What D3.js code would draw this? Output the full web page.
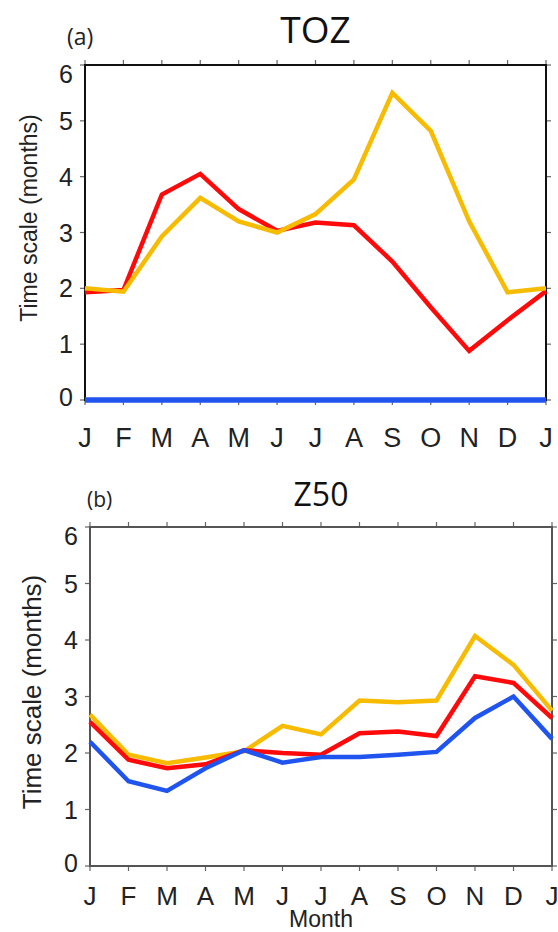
<!DOCTYPE html>
<html>
<head>
<meta charset="utf-8">
<script src="https://cdn.jsdelivr.net/npm/d3@7/dist/d3.min.js"></script>
<style>
  html, body { margin: 0; padding: 0; background: #fff; }
  svg { display: block; }
</style>
</head>
<body>
<svg id="chart" width="558" height="932"></svg>
<script>
// Month tick labels (January to the following January)
const months = ["J", "F", "M", "A", "M", "J", "J", "A", "S", "O", "N", "D", "J"];
const yTicks = [0, 1, 2, 3, 4, 5, 6];

// Panel (a): total ozone (TOZ) time scales, months
const tozRed    = [1.93, 1.97, 3.68, 4.05, 3.42, 3.03, 3.18, 3.13, 2.48, 1.66, 0.88, 1.43, 1.95];
const tozYellow = [2.00, 1.94, 2.93, 3.62, 3.20, 3.00, 3.33, 3.95, 5.50, 4.82, 3.20, 1.93, 2.00];
const tozBlue   = [0, 0, 0, 0, 0, 0, 0, 0, 0, 0, 0, 0, 0];

// Panel (b): 50 hPa geopotential height (Z50) time scales, months
const z50Red    = [2.55, 1.88, 1.73, 1.80, 2.05, 2.00, 1.97, 2.35, 2.38, 2.30, 3.36, 3.24, 2.62];
const z50Yellow = [2.68, 1.97, 1.82, 1.92, 2.03, 2.48, 2.33, 2.93, 2.90, 2.93, 4.07, 3.56, 2.75];
const z50Blue   = [2.20, 1.50, 1.33, 1.73, 2.05, 1.83, 1.93, 1.93, 1.97, 2.02, 2.62, 3.00, 2.25];

const colors = { red: "#ff0a0a", yellow: "#f7bb00", blue: "#1f55ee" };

const svg = d3.select("#chart");

function drawPanel(cfg) {
  const g = svg.append("g");
  const x = d3.scaleLinear().domain([0, 12]).range([cfg.left, cfg.right]);
  const y = d3.scaleLinear().domain([0, 6]).range([cfg.bottom, cfg.top]);
  const idx = d3.range(13);

  // small outward ticks on all four sides
  const tickStyle = s => s.attr("stroke", "#666").attr("stroke-width", 1.2);
  g.selectAll(".tl").data(yTicks).join("line")
    .attr("x1", cfg.left - 5).attr("x2", cfg.left).attr("y1", d => y(d)).attr("y2", d => y(d)).call(tickStyle);
  g.selectAll(".tr").data(yTicks).join("line")
    .attr("x1", cfg.right).attr("x2", cfg.right + 5).attr("y1", d => y(d)).attr("y2", d => y(d)).call(tickStyle);
  g.selectAll(".tt").data(idx).join("line")
    .attr("x1", d => x(d)).attr("x2", d => x(d)).attr("y1", cfg.top - 5).attr("y2", cfg.top).call(tickStyle);
  g.selectAll(".tb").data(idx).join("line")
    .attr("x1", d => x(d)).attr("x2", d => x(d)).attr("y1", cfg.bottom).attr("y2", cfg.bottom + 5).call(tickStyle);

  // frame
  g.append("rect")
    .attr("x", cfg.left).attr("y", cfg.top)
    .attr("width", cfg.right - cfg.left).attr("height", cfg.bottom - cfg.top)
    .attr("fill", "none").attr("stroke", cfg.frame).attr("stroke-width", 2);

  // y tick labels
  g.selectAll(".yl").data(yTicks).join("text")
    .attr("x", cfg.left - 12)
    .attr("y", d => y(d) + (d === 6 ? 9 : d === 0 ? -3 : 0))
    .attr("dy", "0.36em")
    .attr("text-anchor", "end")
    .attr("font-family", "Liberation Sans, Arial, sans-serif")
    .attr("font-size", 25)
    .attr("fill", "#222")
    .text(d => d);

  // month labels
  g.selectAll(".xl").data(idx).join("text")
    .attr("x", d => x(d))
    .attr("y", cfg.bottom + cfg.monthOffset)
    .attr("text-anchor", "middle")
    .attr("font-family", "Liberation Sans, Arial, sans-serif")
    .attr("font-size", cfg.monthSize)
    .attr("fill", "#222")
    .text(d => months[d]);

  // y axis title
  g.append("text")
    .attr("transform", `translate(${cfg.yTitleX},${cfg.yTitleY}) rotate(-90)`)
    .attr("text-anchor", "middle")
    .attr("font-family", "Liberation Sans, Arial, sans-serif")
    .attr("font-size", cfg.yTitleSize)
    .attr("fill", "#222")
    .text("Time scale (months)");

  // panel title and tag
  g.append("text")
    .attr("x", (cfg.left + cfg.right) / 2).attr("y", cfg.titleY)
    .attr("text-anchor", "middle")
    .attr("font-family", "Open Sans, sans-serif")
    .attr("font-size", cfg.titleSize)
    .attr("fill", "#111")
    .text(cfg.title);
  g.append("text")
    .attr("x", cfg.tagX).attr("y", cfg.tagY)
    .attr("font-family", "Open Sans, sans-serif")
    .attr("font-size", cfg.tagSize)
    .attr("fill", "#222")
    .text(cfg.tag);

  // series lines
  const line = d3.line().x((d, i) => x(i)).y(d => y(d));
  cfg.series.forEach(s => {
    g.append("path")
      .datum(s.values)
      .attr("fill", "none")
      .attr("stroke", s.color)
      .attr("stroke-width", s.width || 4.5)
      .attr("stroke-linejoin", "miter")
      .attr("d", line);
  });

  if (cfg.xTitle) {
    g.append("text")
      .attr("x", (cfg.left + cfg.right) / 2).attr("y", cfg.xTitleY)
      .attr("text-anchor", "middle")
      .attr("font-family", "Liberation Sans, Arial, sans-serif")
      .attr("font-size", 23)
      .attr("fill", "#222")
      .text(cfg.xTitle);
  }
}

drawPanel({
  left: 85, right: 546, top: 65, bottom: 400,
  frame: "#111",
  monthOffset: 47, monthSize: 27,
  yTitleX: 37, yTitleY: 218, yTitleSize: 23,
  title: "TOZ", titleY: 43, titleSize: 37,
  tag: "(a)", tagX: 67, tagY: 45, tagSize: 23,
  series: [
    { values: tozBlue, color: colors.blue, width: 5.5 },
    { values: tozRed, color: colors.red },
    { values: tozYellow, color: colors.yellow }
  ]
});

drawPanel({
  left: 90, right: 552, top: 527, bottom: 866,
  frame: "#555",
  monthOffset: 39, monthSize: 26,
  yTitleX: 41, yTitleY: 692, yTitleSize: 26,
  title: "Z50", titleY: 506, titleSize: 32,
  tag: "(b)", tagX: 87, tagY: 507, tagSize: 21,
  xTitle: "Month", xTitleY: 927,
  series: [
    { values: z50Yellow, color: colors.yellow },
    { values: z50Red, color: colors.red },
    { values: z50Blue, color: colors.blue }
  ]
});
</script>
</body>
</html>
